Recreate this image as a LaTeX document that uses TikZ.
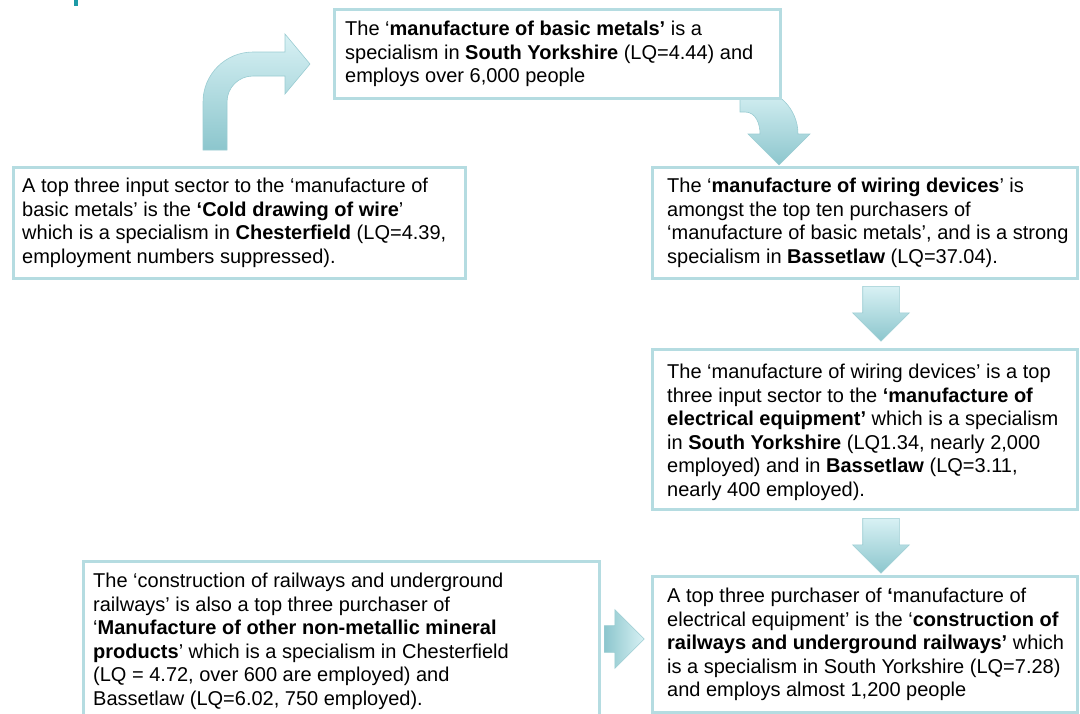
\documentclass[tikz,border=0pt]{standalone}
\usepackage{fontspec}
\setmainfont{Liberation Sans}
\usetikzlibrary{positioning,calc,shapes.arrows}

\definecolor{panelline}{HTML}{B5DCE1}
\definecolor{arrowlight}{HTML}{D8F1F4}
\definecolor{arrowdark}{HTML}{8CC6CD}
\definecolor{arrowedge}{HTML}{9ACCD2}
\definecolor{headteal}{HTML}{1D9AA6}

\newcommand{\panelfont}{\fontsize{20pt}{23.5pt}\selectfont}

\begin{document}
\begin{tikzpicture}[
    x=1pt, y=-1pt,
    panel/.style={
        draw=panelline,
        line width=3pt,
        fill=white,
        inner sep=0pt,
        anchor=north west
    },
    paneltext/.style={
        inner sep=0pt,
        align=left,
        font=\panelfont
    },
    blockarrow/.style={
        draw=arrowedge,
        line width=0.6pt,
        top color=arrowlight,
        bottom color=arrowdark
    },
    downarrow/.style={
        blockarrow,
        single arrow,
        shape border rotate=270,
        inner sep=18pt,
        single arrow head extend=10pt,
        minimum height=49pt
    },
    rightarrow/.style={
        draw=arrowedge,
        line width=0.6pt,
        left color=arrowdark,
        right color=arrowlight,
        single arrow,
        inner sep=13pt,
        single arrow head extend=16pt,
        minimum height=36pt
    }
]
\useasboundingbox (0,0) rectangle (1080,713);
\fill[headteal] (74,0) rectangle (78,6);

% curved block arrows
\draw[blockarrow] (203,150) -- (203,102)
  .. controls (203,74.4) and (225.4,52) .. (253,52)
  -- (285,52) -- (285,34) -- (310,64) -- (285,94) -- (285,76) -- (253,76)
  .. controls (238.6,76) and (227,87.6) .. (227,102)
  -- (227,150) -- cycle;
\draw[blockarrow] (740,88) -- (752,88)
  .. controls (777.4,88) and (798,108.6) .. (798,134)
  -- (810,134) -- (779,165) -- (748,134) -- (760,134)
  .. controls (760,124) and (756,112) .. (745,112)
  -- (740,112) -- cycle;

% boxes
\node[panel, minimum width=446pt, minimum height=89pt] (basic) at (333,8) {};
\node[paneltext, right=12pt of basic.west] (basictext)
  {The ‘\textbf{manufacture of basic metals’} is a\\
   specialism in \textbf{South Yorkshire} (LQ=4.44) and\\
   employs over 6,000 people};

\node[panel, minimum width=452pt, minimum height=111pt] (wire) at (12,166) {};
\node[paneltext, right=10pt of wire.west] (wiretext)
  {A top three input sector to the ‘manufacture of\\
   basic metals’ is the \textbf{‘Cold drawing of wire}’\\
   which is a specialism in \textbf{Chesterfield} (LQ=4.39,\\
   employment numbers suppressed).};

\node[panel, minimum width=425pt, minimum height=111pt] (wiring) at (651,166) {};
\node[paneltext, right=16pt of wiring.west] (wiringtext)
  {The ‘\textbf{manufacture of wiring devices}’ is\\
   amongst the top ten purchasers of\\
   ‘manufacture of basic metals’, and is a strong\\
   specialism in \textbf{Bassetlaw} (LQ=37.04).};

\node[panel, minimum width=425pt, minimum height=160pt, below=68pt of wiring.south west, anchor=north west] (elec) {};
\node[paneltext, right=16pt of elec.west, yshift=-3pt] (electext)
  {The ‘manufacture of wiring devices’ is a top\\
   three input sector to the \textbf{‘manufacture of}\\
   \textbf{electrical equipment’} which is a specialism\\
   in \textbf{South Yorkshire} (LQ1.34, nearly 2,000\\
   employed) and in \textbf{Bassetlaw} (LQ=3.11,\\
   nearly 400 employed).};

\node[panel, minimum width=425pt, minimum height=136pt, below=64pt of elec.south west, anchor=north west] (rail) {};
\node[paneltext, right=16pt of rail.west] (railtext)
  {A top three purchaser of \textbf{‘}manufacture of\\
   electrical equipment’ is the ‘\textbf{construction of}\\
   \textbf{railways and underground railways’} which\\
   is a specialism in South Yorkshire (LQ=7.28)\\
   and employs almost 1,200 people};

\node[panel, minimum width=516pt, minimum height=160pt] (mineral) at (82,560) {};
\node[paneltext, anchor=north west] (mineraltext) at ($(mineral.north west)+(11,13)$)
  {The ‘construction of railways and underground\\
   railways’ is also a top three purchaser of\\
   ‘\textbf{Manufacture of other non-metallic mineral}\\
   \textbf{products}’ which is a specialism in Chesterfield\\
   (LQ = 4.72, over 600 are employed) and\\
   Bassetlaw (LQ=6.02, 750 employed).};

% straight block arrows
\node[downarrow, below=6pt of wiring.south, xshift=16pt] (a2) {};
\node[downarrow, below=7pt of elec.south, xshift=16pt] (a3) {};
\node[rightarrow, anchor=west] (a4) at (604,639) {};
\end{tikzpicture}
\end{document}
